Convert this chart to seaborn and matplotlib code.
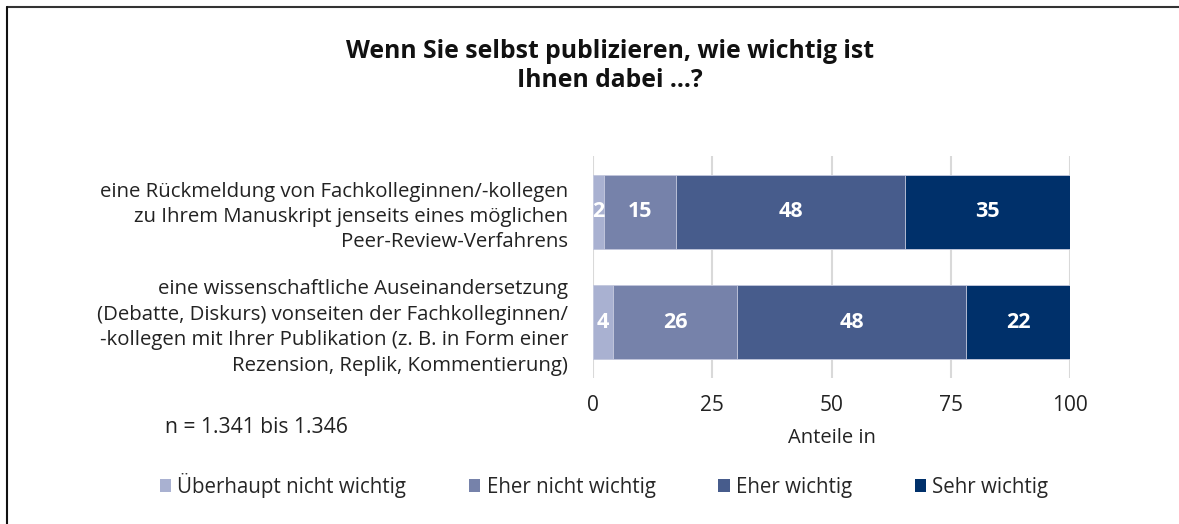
import matplotlib
matplotlib.use("Agg")
import matplotlib.pyplot as plt
from matplotlib.lines import Line2D
from matplotlib.patches import Patch
import seaborn as sns
import numpy as np
import pandas as pd

# chart data
items = [
    "eine Rückmeldung von Fachkolleginnen/-kollegen\nzu Ihrem Manuskript jenseits eines möglichen\nPeer-Review-Verfahrens",
    "eine wissenschaftliche Auseinandersetzung\n(Debatte, Diskurs) vonseiten der Fachkolleginnen/\n-kollegen mit Ihrer Publikation (z. B. in Form einer\nRezension, Replik, Kommentierung)",
]
categories = ["Überhaupt nicht wichtig", "Eher nicht wichtig", "Eher wichtig", "Sehr wichtig"]
ueberhaupt_nicht = [2.3, 4.2]
eher_nicht = [15.1, 26.0]
eher_wichtig = [48.0, 48.0]
sehr_wichtig = [34.6, 21.8]
labels_shown = [[2, 15, 48, 35], [4, 26, 48, 22]]
xticks = [0, 25, 50, 75, 100]

colors = ["#a9b1d1", "#7682aa", "#475c8c", "#00306a"]

sns.set_theme(style="white")
plt.rcParams["font.family"] = ["Open Sans", "DejaVu Sans"]

df = pd.DataFrame({
    "item": items,
    categories[0]: ueberhaupt_nicht,
    categories[1]: eher_nicht,
    categories[2]: eher_wichtig,
    categories[3]: sehr_wichtig,
})
cum = df[categories].cumsum(axis=1)

fig = plt.figure(figsize=(11.79, 5.24), dpi=100)
ax = fig.add_axes([0.503, 0.2786, 0.4046, 0.4234])

# stacked bars: draw cumulative totals from largest to smallest
for i in range(len(categories) - 1, -1, -1):
    sns.barplot(x=cum[categories[i]], y=df["item"], color=colors[i], orient="h",
                width=0.667, ax=ax, saturation=1, edgecolor="#c8cce0", linewidth=0.6)

# value labels
for r in range(len(items)):
    left = 0
    for c, cat in enumerate(categories):
        w = df[cat][r]
        ax.text(left + w / 2, r, str(labels_shown[r][c]), ha="center", va="center",
                color="white", fontsize=15.5, fontweight="bold")
        left += w

ax.set_xlim(0, 100)
ax.set_ylim(1.505, -0.505)
ax.set_xticks(xticks)
ax.set_xticklabels([str(t) for t in xticks], fontsize=15, color="#222222")
ax.tick_params(axis="x", length=0, pad=12)
ax.tick_params(axis="y", length=0, pad=18)
ax.set_yticks(range(len(items)))
ax.set_yticklabels(items, fontsize=14.7, color="#222222", linespacing=1.36)
ax.set_ylabel("")
ax.set_xlabel("Anteile in", fontsize=14.5, color="#222222", labelpad=9)
ax.grid(axis="x", color="#d9d9d9", linewidth=1.5)
ax.set_axisbelow(True)
for s in ax.spines.values():
    s.set_visible(False)

fig.text(0.517, 0.874, "Wenn Sie selbst publizieren, wie wichtig ist\nIhnen dabei …?",
         ha="center", va="center", fontsize=17.8, fontweight="bold", color="#111111",
         linespacing=1.2)
fig.text(0.14, 0.185, "n = 1.341 bis 1.346", ha="left", va="center", fontsize=15.2,
         color="#222222")

handles = [Patch(facecolor=col, edgecolor="none") for col in colors]
fig.legend(handles, categories, loc="center left", bbox_to_anchor=(0.12, 0.074),
           ncol=4, frameon=False, fontsize=14.8, handlelength=0.55, handleheight=0.55,
           handletextpad=0.3, columnspacing=3.05)

# frame lines (top and left)
fig.add_artist(Line2D([0.006, 1.0], [0.986, 0.986], color="#333333", linewidth=1.5,
                      transform=fig.transFigure))
fig.add_artist(Line2D([0.006, 0.006], [0.0, 0.986], color="#111111", linewidth=1.5,
                      transform=fig.transFigure))

fig.savefig("out.png", dpi=100)
